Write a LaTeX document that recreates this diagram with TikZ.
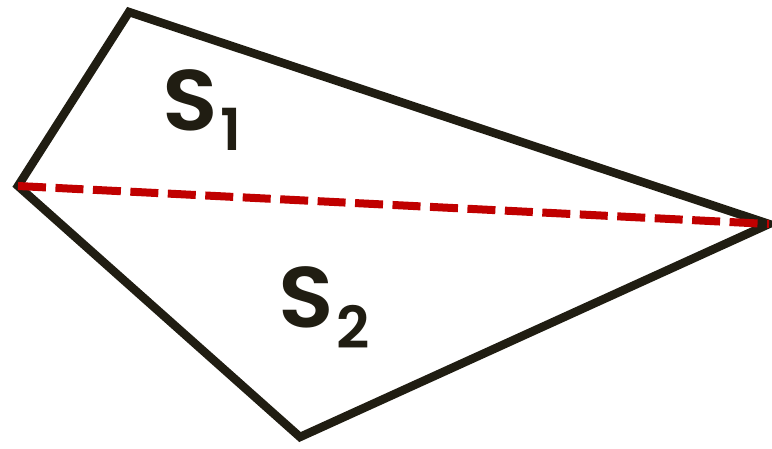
\documentclass[tikz,border=0pt]{standalone}
\usepackage{fontspec}
\setmainfont{Poppins}[UprightFont=* SemiBold]
\definecolor{ink}{HTML}{201D12}
\definecolor{cut}{HTML}{C00000}
\begin{document}
\begin{tikzpicture}[x=1pt,y=-1pt,
  edge/.style={draw=ink,line width=8.5pt,miter limit=10},
  diag/.style={draw=cut,line width=8pt,dash pattern=on 28pt off 9.5pt},
  big/.style={font=\fontsize{86}{86}\selectfont,text=ink,inner sep=0pt,anchor=base west,xscale=1.06},
  sub/.style={font=\fontsize{58}{58}\selectfont,text=ink,inner sep=0pt,anchor=base west}]
\useasboundingbox (0,0) rectangle (772,448);
\coordinate (T) at (129,12);
\coordinate (L) at (18,186);
\coordinate (B) at (300,437);
\coordinate (R) at (769,224);
\draw[edge] (L) -- (T) -- (R) -- (B) -- cycle;
\draw[diag] (L) -- (R);
\node[big] (s1) at (162,130) {S};
\node[sub] (i1) at (220,150) {1};
\node[big] (s2) at (278,327) {S};
\node[sub] (i2) at (336,348) {2};
\end{tikzpicture}
\end{document}
